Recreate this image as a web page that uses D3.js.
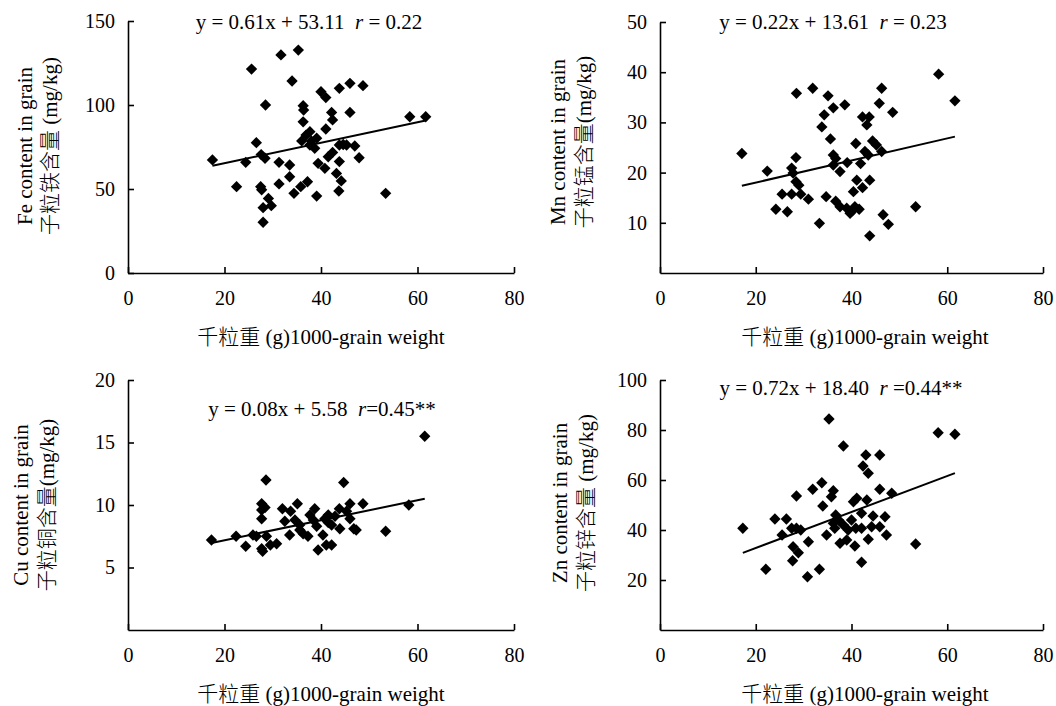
<!DOCTYPE html>
<html>
<head>
<meta charset="utf-8">
<script src="https://cdn.jsdelivr.net/npm/d3@7"></script>
<style>
  body { margin: 0; background: #fff; }
  text { white-space: pre; }
</style>
</head>
<body>
<div id="chart"></div>
<script>
'use strict';

// 1000-grain weight ticks (shared by all four panels)
var xTicks = [0, 20, 40, 60, 80];

// [1000-grain weight (g), content (mg/kg)]
var feData = [[17.5,67.3],[25.6,121.4],[31.7,129.8],[35.3,132.7],[34.0,114.3],[28.5,100],[22.5,51.4],[24.4,65.9],
  [26.6,77.6],[28.4,68.3],[27.6,70.5],[27.5,51.4],[27.7,49.5],[29.1,44.4],[28.0,38.9],[29.7,40.1],[28.0,30.2],
  [31.3,65.9],[31.3,53],[33.5,64.3],[33.5,57.3],[34.4,47.4],[35.8,51.4],[37.2,54.3],[39.1,45.8],[36.3,99.6],
  [36.4,97],[36.3,90],[37.7,84.1],[36.9,82.1],[36.0,78.6],[38.0,78.6],[39.1,80.2],[38.7,74.2],[37.7,76.2],
  [40.0,107.9],[41.0,104.4],[43.8,109.9],[46.0,112.9],[48.7,111.5],[42.2,95.6],[42.4,91.1],[46.0,95.6],
  [41.0,85.7],[39.4,65.3],[40.8,62.3],[41.5,69.2],[42.4,71.8],[43.8,76.2],[45.3,76.2],[47.0,75.6],[43.8,66.3],
  [47.9,68.6],[43.2,59.3],[44.2,54.8],[43.7,48.8],[53.4,47.4],[58.4,93],[61.7,93],[44.6,76.5]];

var mnData = [[17.1,23.8],[22.4,20.3],[24.2,12.7],[26.6,12.2],[25.5,15.7],[27.5,15.7],[29.4,15.7],[31.0,14.7],
  [28.5,35.8],[31.9,36.8],[35.1,35.3],[36.2,32.9],[38.6,33.5],[34.3,31.5],[33.8,29.1],[35.6,26.7],[28.4,23],
  [27.5,20.9],[27.8,19.9],[28.4,18.2],[29.0,17.5],[33.3,9.9],[34.7,15.2],[36.2,23.5],[36.7,22.8],[36.2,21.5],
  [37.6,20.2],[39.1,22],[36.7,14.3],[37.6,13.2],[39.0,12.9],[39.7,11.9],[40.7,13.2],[41.6,12.7],[40.4,16.2],
  [42.3,17],[41.1,18.5],[43.8,18.5],[40.9,25.8],[41.9,21.8],[42.3,31.1],[43.7,31.1],[43.2,29.5],[46.3,36.8],
  [45.8,33.8],[48.6,32],[44.4,26.3],[45.2,25.5],[46.3,24.2],[42.8,24.2],[43.5,23.5],[46.6,11.6],[47.7,9.7],
  [43.8,7.4],[53.4,13.2],[58.2,39.6],[61.6,34.3],[40.2,12.4]];

var cuData = [[17.3,7.2],[22.4,7.5],[24.4,6.7],[25.9,7.6],[26.6,7.5],[28.6,12],[27.7,10.1],[28.4,9.8],[27.7,9.6],
  [27.7,8.9],[28.7,7.5],[27.7,6.5],[27.9,6.3],[29.5,6.8],[30.8,6.9],[32.0,9.7],[33.5,7.6],[35.1,10.1],[33.7,9.5],
  [34.6,8.8],[35.6,8.4],[36.3,7.7],[37.3,7.5],[37.7,9.2],[38.7,9.7],[38.4,8.8],[39.1,8.3],[39.4,6.4],[40.4,7.6],
  [40.8,8.9],[41.5,9.2],[41.1,6.8],[42.2,6.8],[42.2,8.4],[42.9,9.1],[43.8,9.7],[43.9,8.1],[46.0,10.1],[46.0,8.9],
  [44.7,11.8],[46.8,8.1],[47.3,8.0],[48.7,10.1],[53.4,7.9],[58.2,10],[61.5,15.5],[45.3,9.5],[32.5,8.7],
  [35.6,8.0],[41.5,8.6]];

var znData = [[17.3,40.7],[22.1,24.3],[24.0,44.4],[26.4,44.4],[25.5,38],[27.5,40.7],[28.5,40.7],[29.4,40],
  [27.8,33.3],[28.9,30.9],[27.7,27.7],[31.0,35.3],[30.8,21.3],[33.3,24.3],[28.5,53.6],[31.9,56.3],[33.8,58.9],
  [35.3,84.4],[38.3,73.6],[36.2,55.7],[35.8,53.3],[34.0,49.6],[34.8,38],[36.7,46],[36.2,42.7],[37.3,44],
  [38.3,42],[39.3,40],[36.5,40.7],[37.6,34.7],[39.0,36],[40.7,33.6],[42.1,27.1],[41.1,52.7],[40.4,51.3],
  [42.1,46.7],[43.2,52],[40.9,40.7],[42.1,40.7],[44.2,41.3],[44.5,45.6],[47.0,45.3],[45.9,41.3],[47.3,38],
  [43.5,36.3],[45.9,56.3],[48.4,54.7],[42.4,65.6],[43.5,62.7],[43.0,70],[45.9,70],[53.4,34.4],[58.1,78.9],
  [61.6,78.3],[40.0,44]];

// regression: [slope, intercept]
var feFit = [0.61, 53.11];
var mnFit = [0.22, 13.61];
var cuFit = [0.08, 5.58];
var znFit = [0.72, 18.40];

// y tick labels per panel
var feTicks = [0, 50, 100, 150];
var mnTicks = [10, 20, 30, 40, 50];
var cuTicks = [5, 10, 15, 20];
var znTicks = [20, 40, 60, 80, 100];

// equation text: [before italic r, r, after]
var feEq = ['y = 0.61x + 53.11  ', 'r', ' = 0.22'];
var mnEq = ['y = 0.22x + 13.61  ', 'r', ' = 0.23'];
var cuEq = ['y = 0.08x + 5.58  ', 'r', '=0.45**'];
var znEq = ['y = 0.72x + 18.40  ', 'r', ' =0.44**'];

var feLabel = ['Fe content in grain', '子粒铁含量 (mg/kg)'];
var mnLabel = ['Mn content in grain', '子粒锰含量(mg/kg)'];
var cuLabel = ['Cu content in grain', '子粒铜含量(mg/kg)'];
var znLabel = ['Zn content in grain', '子粒锌含量 (mg/kg)'];
var xTitle = '千粒重 (g)1000-grain weight';

var panels = [
  { data: feData, fit: feFit, ticks: feTicks, eq: feEq, label: feLabel,
    box: { l: 128, r: 514, t: 21, b: 273 }, lab: [32, 57, 146], eqPos: [309, 29], xt: [321, 344] },
  { data: mnData, fit: mnFit, ticks: mnTicks, eq: mnEq, label: mnLabel,
    box: { l: 660, r: 1043, t: 22, b: 273 }, lab: [565, 591, 142], eqPos: [833, 29], xt: [865, 344] },
  { data: cuData, fit: cuFit, ticks: cuTicks, eq: cuEq, label: cuLabel,
    box: { l: 128, r: 514, t: 380, b: 630 }, lab: [28, 54, 505], eqPos: [322, 416], xt: [321, 701] },
  { data: znData, fit: znFit, ticks: znTicks, eq: znEq, label: znLabel,
    box: { l: 660, r: 1043, t: 380, b: 630 }, lab: [567, 593, 503], eqPos: [841, 395], xt: [865, 701] }
];

var svg = d3.select('#chart').append('svg')
  .attr('width', 1056)
  .attr('height', 706)
  .style('font-family', '"Liberation Serif", "Times New Roman", "Noto Sans CJK SC", serif')
  .style('font-weight', 300);

var diamond = d3.symbol().type(d3.symbolSquare).size(64);

panels.forEach(function(p) {
  var b = p.box;
  var x = d3.scaleLinear().domain([0, 80]).range([b.l, b.r]);
  var y = d3.scaleLinear().domain([0, d3.max(p.ticks)]).range([b.b, b.t]);
  var g = svg.append('g');

  var xAxis = g.append('g')
    .attr('transform', 'translate(0,' + b.b + ')')
    .call(d3.axisBottom(x).tickValues(xTicks).tickSizeInner(-6).tickSizeOuter(0).tickPadding(18));
  var yAxis = g.append('g')
    .attr('transform', 'translate(' + b.l + ',0)')
    .call(d3.axisLeft(y).tickValues(p.ticks).tickSizeInner(-6).tickSizeOuter(0).tickPadding(13));

  [xAxis, yAxis].forEach(function(a) {
    a.selectAll('path, line').attr('stroke', '#000').attr('stroke-width', 1.6);
    a.selectAll('text').attr('fill', '#000').style('font-size', '20px')
      .style('font-family', '"Liberation Serif", serif');
  });

  // regression line across the observed range
  var ext = d3.extent(p.data, function(d) { return d[0]; });
  g.append('line')
    .attr('x1', x(ext[0])).attr('y1', y(p.fit[0] * ext[0] + p.fit[1]))
    .attr('x2', x(ext[1])).attr('y2', y(p.fit[0] * ext[1] + p.fit[1]))
    .attr('stroke', '#000').attr('stroke-width', 2);

  g.selectAll('path.pt').data(p.data).enter().append('path')
    .attr('class', 'pt')
    .attr('d', diamond)
    .attr('transform', function(d) {
      return 'translate(' + x(d[0]) + ',' + y(d[1]) + ') rotate(45)';
    })
    .attr('fill', '#000');

  var eq = g.append('text')
    .attr('x', p.eqPos[0]).attr('y', p.eqPos[1])
    .attr('text-anchor', 'middle')
    .style('font-size', '21px');
  eq.append('tspan').text(p.eq[0]);
  eq.append('tspan').style('font-style', 'italic').text(p.eq[1]);
  eq.append('tspan').text(p.eq[2]);

  p.label.forEach(function(s, i) {
    g.append('text')
      .attr('transform', 'translate(' + p.lab[i] + ',' + p.lab[2] + ') rotate(-90)')
      .attr('text-anchor', 'middle')
      .style('font-size', '21px')
      .text(s);
  });

  g.append('text')
    .attr('x', p.xt[0]).attr('y', p.xt[1])
    .attr('text-anchor', 'middle')
    .style('font-size', '21px')
    .text(xTitle);
});
</script>
</body>
</html>
